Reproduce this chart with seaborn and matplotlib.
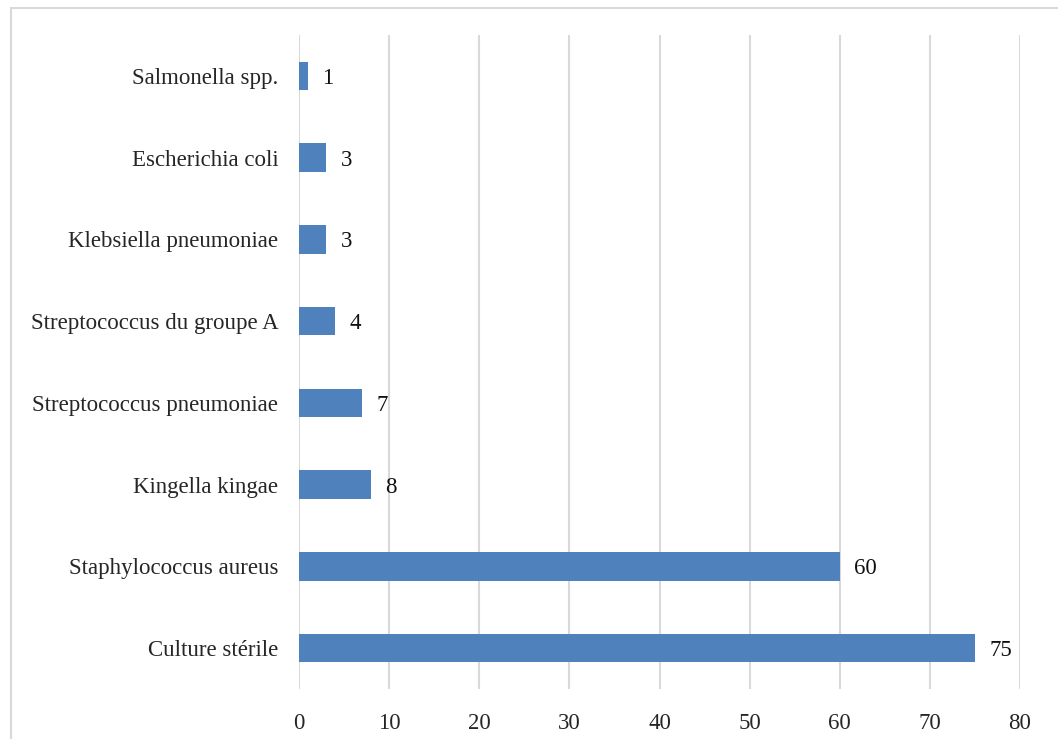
import matplotlib
matplotlib.use("Agg")
import matplotlib.pyplot as plt
import matplotlib.patches as mpatches
import pandas as pd
import seaborn as sns

# data (top to bottom as shown)
germes = ["Salmonella spp.", "Escherichia coli", "Klebsiella pneumoniae",
          "Streptococcus du groupe A", "Streptococcus pneumoniae",
          "Kingella kingae", "Staphylococcus aureus", "Culture stérile"]
effectifs = [1, 3, 3, 4, 7, 8, 60, 75]
xticks = [0, 10, 20, 30, 40, 50, 60, 70, 80]

df = pd.DataFrame({"germe": germes, "n": effectifs})

sns.set_style("white")
plt.rcParams["font.family"] = ["Liberation Serif", "DejaVu Serif"]

fig = plt.figure(figsize=(10.58, 7.39), dpi=100)
ax = fig.add_axes([299 / 1058, 1 - 689 / 739, (1020 - 299) / 1058, (689 - 35) / 739])

sns.barplot(data=df, x="n", y="germe", color="#4F81BD", width=0.35,
            saturation=1, linewidth=0, ax=ax, zorder=3)

ax.set_xlim(0, 80)
ax.set_ylim(7.5, -0.5)
ax.set_xticks(xticks)
ax.set_xticklabels([str(t) for t in xticks], fontsize=16.5)
ax.tick_params(axis="y", labelsize=16.5, length=0, pad=15)
ax.tick_params(axis="x", length=0, pad=17)
ax.set_xlabel("")
ax.set_ylabel("")
ax.grid(axis="x", color="#D9D9D9", linewidth=1.5, zorder=0)
for s in ax.spines.values():
    s.set_visible(False)

for i, v in enumerate(effectifs):
    ax.text(v + 1.6, i, str(v), va="center_baseline", ha="left", fontsize=16.5,
            color="#111111")

# outer chart frame
fig.patches.append(mpatches.Rectangle((11 / 1058, -0.05), 1.1, 1 - 8 / 739 + 0.05,
                                      transform=fig.transFigure, fill=False,
                                      edgecolor="#D9D9D9", linewidth=1.5))

fig.savefig("out.png", dpi=100)
